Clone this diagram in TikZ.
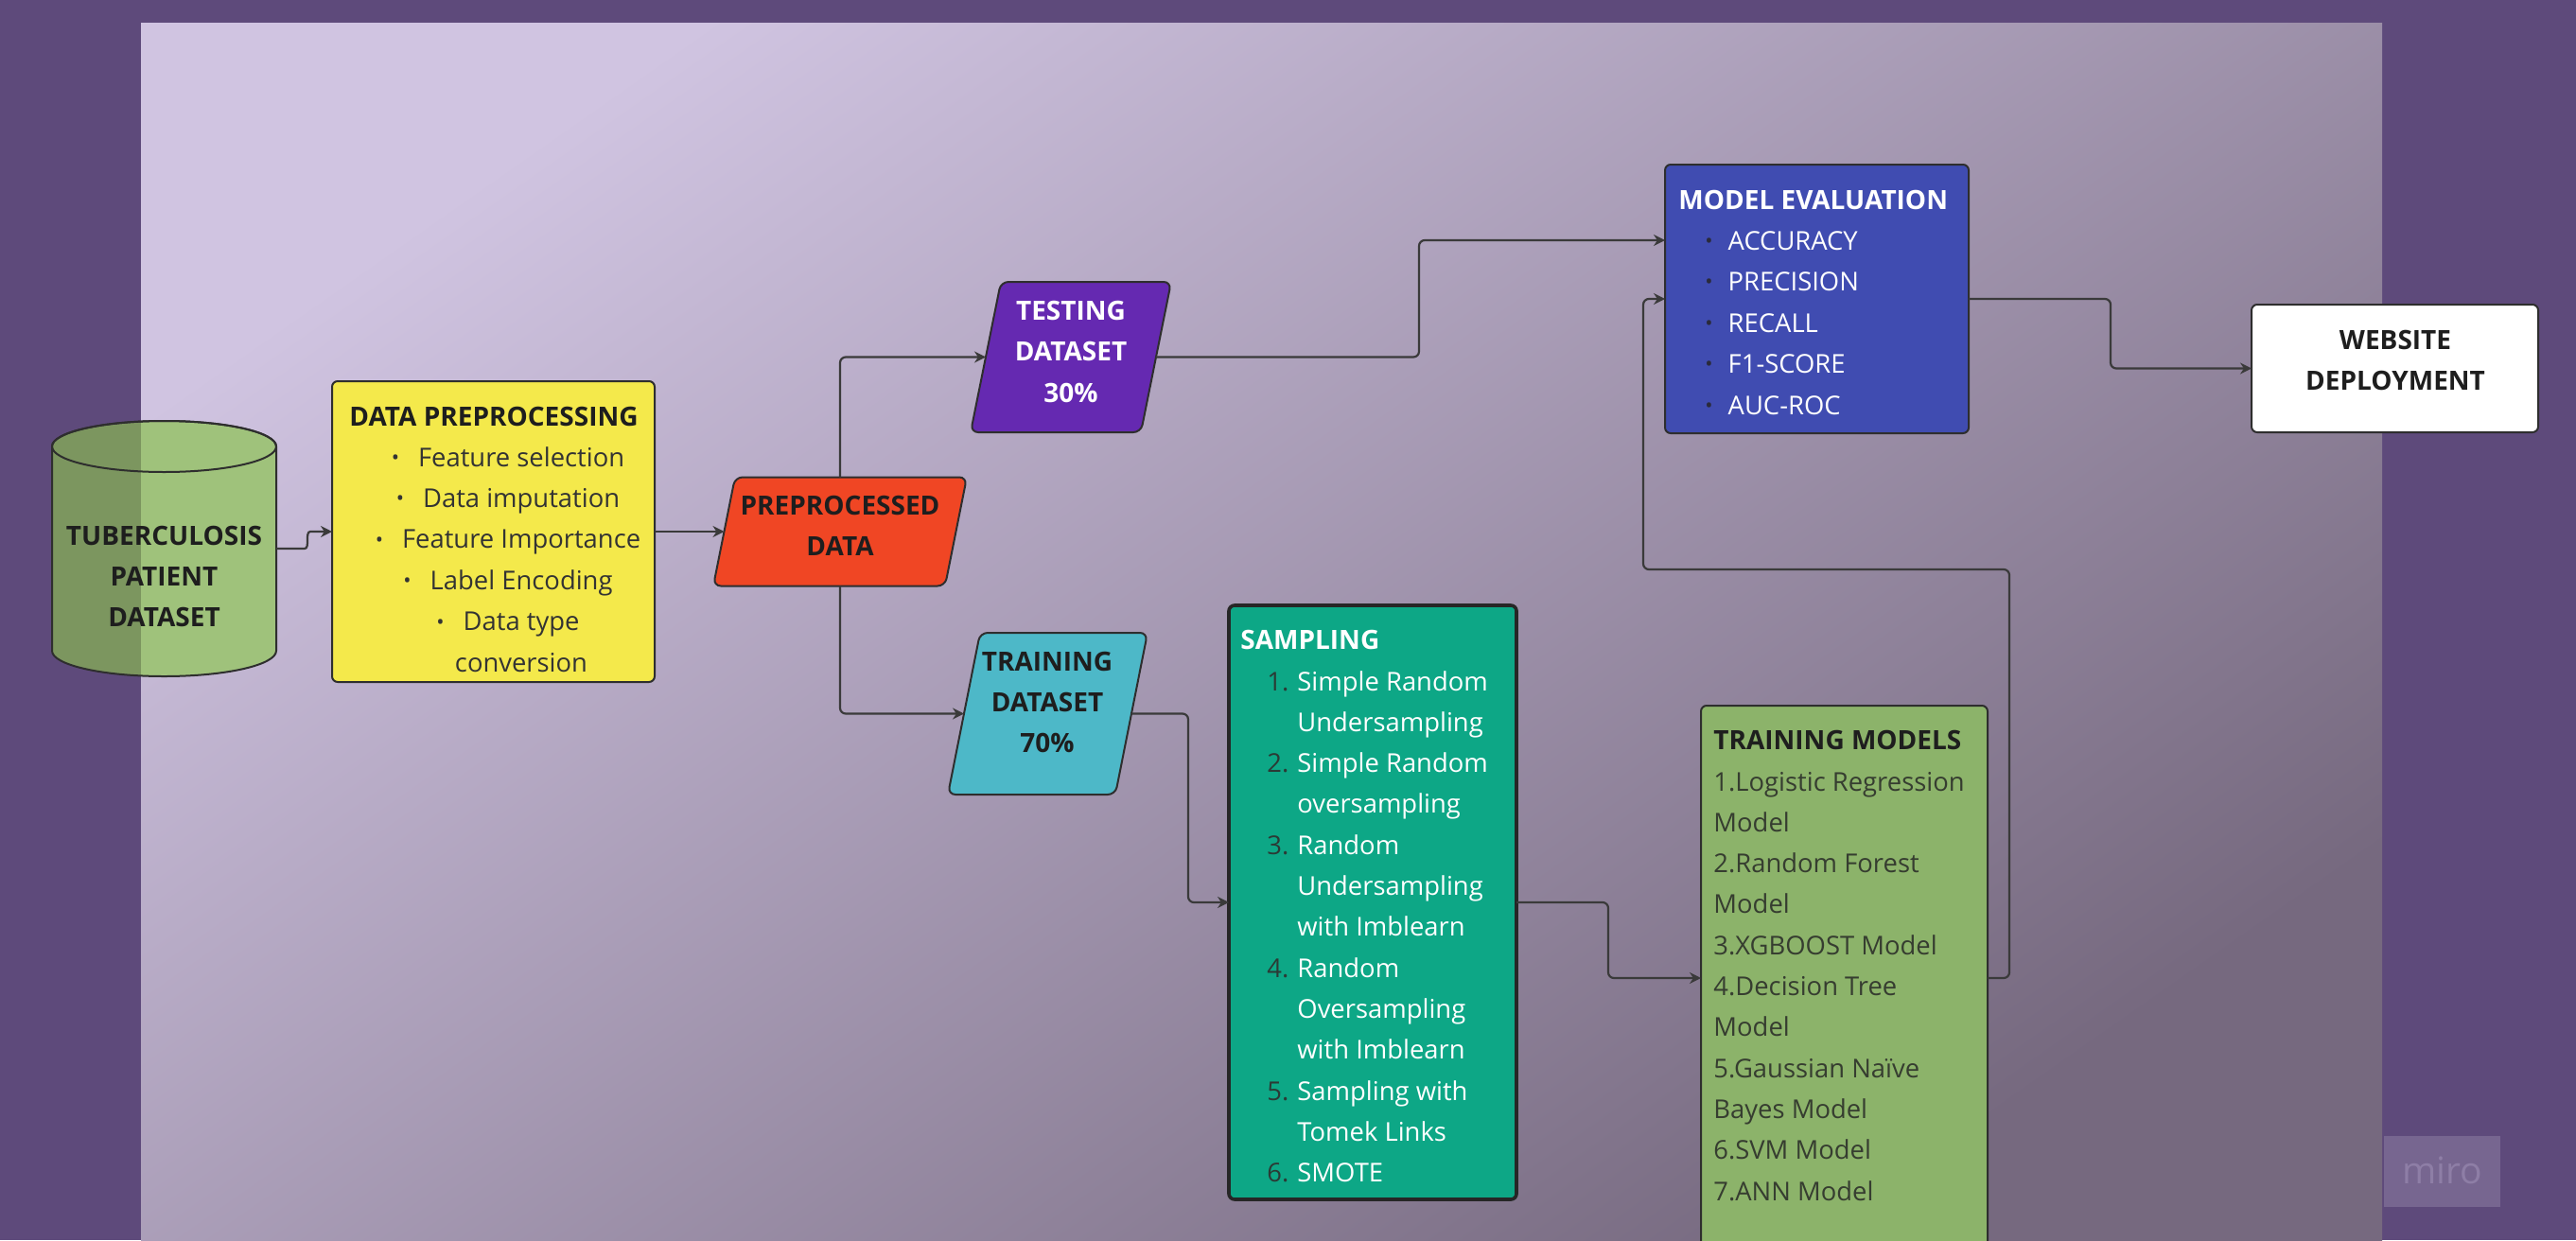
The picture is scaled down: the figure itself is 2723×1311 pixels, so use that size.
\documentclass[tikz,border=0pt]{standalone}
\usepackage{fontspec}
\setmainfont{Open Sans}
\usetikzlibrary{arrows.meta,calc}

\definecolor{outerbg}{HTML}{5E4A7B}
\definecolor{panelL}{HTML}{D0C4E1}
\definecolor{panelD}{HTML}{76697F}
\definecolor{cylgreen}{HTML}{9FC27B}
\definecolor{cyldark}{HTML}{7C965F}
\definecolor{dpyellow}{HTML}{F4E94B}
\definecolor{pdred}{HTML}{F04624}
\definecolor{tstpurple}{HTML}{6529B1}
\definecolor{trnteal}{HTML}{4DB8C8}
\definecolor{smpgreen}{HTML}{0DA786}
\definecolor{tmgreen}{HTML}{8CB36A}
\definecolor{meblue}{HTML}{404CB1}
\definecolor{edgec}{HTML}{2E2E2E}
\definecolor{connc}{HTML}{3A3A3A}
\definecolor{txtdark}{HTML}{1E1E1E}
\definecolor{txtgray}{HTML}{333333}
\definecolor{tmtxt}{HTML}{363D30}
\definecolor{numdark}{HTML}{2B3A35}
\definecolor{bulletdark}{HTML}{2A2A3A}
\definecolor{mirobox}{HTML}{776690}
\definecolor{mirotxt}{HTML}{8E7EA6}

\newcommand{\bul}[1]{{\color{#1}\fontsize{11pt}{11pt}\selectfont\raisebox{0.8pt}{•}}}

\tikzset{
  box/.style={draw=edgec, line width=1pt, rounded corners=3pt, inner sep=0pt, outer sep=0pt},
  geo/.style={draw=none, inner sep=0pt, outer sep=0pt},
  pgram/.style={draw=edgec, line width=1pt, rounded corners=4pt},
  conn/.style={draw=connc, line width=1.1pt, rounded corners=3pt, -{Stealth[length=6pt,width=6pt]}},
  tb/.style={inner sep=0pt, anchor=base, font=\fontsize{14pt}{16pt}\selectfont\bfseries},
  tr/.style={inner sep=0pt, anchor=base west, font=\fontsize{13.7pt}{16pt}\selectfont},
}

\begin{document}
\begin{tikzpicture}[x=0.5pt,y=-0.5pt]
\useasboundingbox (0,0) rectangle (2723,1311);
\clip (0,0) rectangle (2723,1311);
\fill[outerbg] (0,0) rectangle (2723,1311);
\shade[top color=panelL, bottom color=panelD, shading angle=35] (149,25) rectangle (2518,1311);

% miro badge
\node[fill=mirobox, minimum width=61.5pt, minimum height=37.5pt, inner sep=0pt] (miro) at (2581.5,1238.5) {};
\node[inner sep=0pt, anchor=base, text=mirotxt, font=\fontsize{19.5pt}{20pt}\selectfont] (mirot) at (2581.5,1251) {miro};

% cylinder
\node[geo, minimum width=118.5pt, minimum height=135pt] (cyl) at (173.5,580) {};
\fill[cylgreen] (55,472) -- (55,688) arc[start angle=180, end angle=0, x radius=118.5, y radius=27] -- (292,472) arc[start angle=0, end angle=-180, x radius=118.5, y radius=27] -- cycle;
\begin{scope}
\clip (55,472) -- (55,688) arc[start angle=180, end angle=0, x radius=118.5, y radius=27] -- (292,472) arc[start angle=0, end angle=-180, x radius=118.5, y radius=27] -- cycle;
\fill[cyldark] (0,0) rectangle (149,1311);
\end{scope}
\draw[edgec, line width=1pt] (55,472) -- (55,688) arc[start angle=180, end angle=0, x radius=118.5, y radius=27] -- (292,472) arc[start angle=0, end angle=-180, x radius=118.5, y radius=27] -- cycle;
\draw[edgec, line width=1pt] (173.5,472) ellipse[x radius=118.5, y radius=27];
\foreach \t [count=\i] in {TUBERCULOSIS,PATIENT,DATASET}
  \node[tb, text=txtdark] (cylt\i) at (173.5,{576+43*(\i-1)}) {\t};

% data preprocessing
\node[box, fill=dpyellow, minimum width=170.5pt, minimum height=159pt] (dp) at (521.5,562) {};
\node[tb, text=txtdark] (dptitle) at (522,450) {DATA PREPROCESSING};
\foreach \t [count=\i] in {Feature selection,Data imputation,Feature Importance,Label Encoding,Data type}
  \node[tr, anchor=base, text=txtgray] (dpi\i) at (537,{493+43.4*(\i-1)}) {\bul{txtgray}\hspace{10pt}\t};
\node[tr, anchor=base, text=txtgray] (dpi6) at (551,710) {conversion};

% preprocessed data
\node[geo, minimum width=122.5pt, minimum height=57.5pt] (pd) at (888,562) {};
\draw[pgram, fill=pdred] ([xshift=-5.75pt]pd.south west) -- ([xshift=5.75pt]pd.north west) -- ([xshift=5.75pt]pd.north east) -- ([xshift=-5.75pt]pd.south east) -- cycle;
\foreach \t [count=\i] in {PREPROCESSED,DATA}
  \node[tb, text=txtdark] (pdt\i) at (888,{544+43*(\i-1)}) {\t};

% testing dataset
\node[geo, minimum width=90pt, minimum height=79.5pt] (tst) at (1132,377.5) {};
\draw[pgram, fill=tstpurple] ([xshift=-8pt]tst.south west) -- ([xshift=8pt]tst.north west) -- ([xshift=8pt]tst.north east) -- ([xshift=-8pt]tst.south east) -- cycle;
\foreach \t [count=\i] in {TESTING,DATASET,30\%}
  \node[tb, text=white] (tstt\i) at (1132,{338+43.5*(\i-1)}) {\t};

% training dataset
\node[geo, minimum width=88.5pt, minimum height=85.5pt] (trn) at (1107.5,754.5) {};
\draw[pgram, fill=trnteal] ([xshift=-8.5pt]trn.south west) -- ([xshift=8.5pt]trn.north west) -- ([xshift=8.5pt]trn.north east) -- ([xshift=-8.5pt]trn.south east) -- cycle;
\foreach \t [count=\i] in {TRAINING,DATASET,70\%}
  \node[tb, text=txtdark] (trnt\i) at (1107,{709+43*(\i-1)}) {\t};

% sampling
\node[box, fill=smpgreen, draw=black!85, line width=1.8pt, minimum width=152pt, minimum height=314pt] (smp) at (1451,954) {};
\node[tb, anchor=base west, text=white] (smptitle) at (1311,686) {SAMPLING};
\foreach \t [count=\i] in {Simple Random,Undersampling,Simple Random,oversampling,Random,Undersampling,with Imblearn,Random,Oversampling,with Imblearn,Sampling with,Tomek Links,SMOTE}
  \node[tr, text=white] (smpt\i) at (1371,{730+43.3*(\i-1)}) {\t};
\foreach \n/\k in {1/1,2/3,3/5,4/8,5/11,6/13}
  \node[tr, text=numdark] (smpn\n) at (1339,{730+43.3*(\k-1)}) {\n.};

% training models
\node[box, fill=tmgreen, minimum width=151.5pt, minimum height=288pt] (tm) at (1949.5,1034) {};
\node[tb, anchor=base west, text=txtdark] (tmtitle) at (1811,792) {TRAINING MODELS};
\foreach \t [count=\i] in {1.Logistic Regression,Model,2.Random Forest,Model,3.XGBOOST Model,4.Decision Tree,Model,5.Gaussian Naïve,Bayes Model,6.SVM Model,7.ANN Model}
  \node[tr, text=tmtxt] (tmi\i) at (1811,{836+43.3*(\i-1)}) {\t};

% model evaluation
\node[box, fill=meblue, minimum width=160.5pt, minimum height=142pt] (me) at (1920.5,316) {};
\node[tb, anchor=base west, text=white] (metitle) at (1774,221) {MODEL EVALUATION};
\foreach \t [count=\i] in {ACCURACY,PRECISION,RECALL,F1-SCORE,AUC-ROC}
  \node[tr, text=white] (mei\i) at (1802,{264+43.5*(\i-1)}) {\bul{bulletdark}\hspace{8pt}\t};
\coordinate (mein) at ([yshift=31pt]me.west);

% website deployment
\node[box, fill=white, minimum width=151.5pt, minimum height=67.5pt] (web) at (2531.5,389.5) {};
\foreach \t [count=\i] in {WEBSITE,DEPLOYMENT}
  \node[tb, text=txtdark] (webt\i) at (2532,{369+43*(\i-1)}) {\t};

% connectors
\draw[conn] (cyl.east) -- (316,580) .. controls (328,580) and (322,562) .. (334,562) -- (dp.west);
\draw[conn] (dp.east) -- (pd.west);
\draw[conn] (pd.north) |- (tst.west);
\draw[conn] (pd.south) |- (trn.west);
\draw[conn] (tst.east) -- ++(278,0) |- (mein);
\draw[conn] (trn.east) -- ++(60,0) |- (smp.west);
\draw[conn] (smp.east) -- ++(97,0) |- (tm.west);
\draw[conn] (tm.east) -- ++(23,0) -- ++(0,-432) -- ++(-387,0) |- (me.west);
\draw[conn] (me.east) -- ++(150,0) |- (web.west);
\end{tikzpicture}
\end{document}
